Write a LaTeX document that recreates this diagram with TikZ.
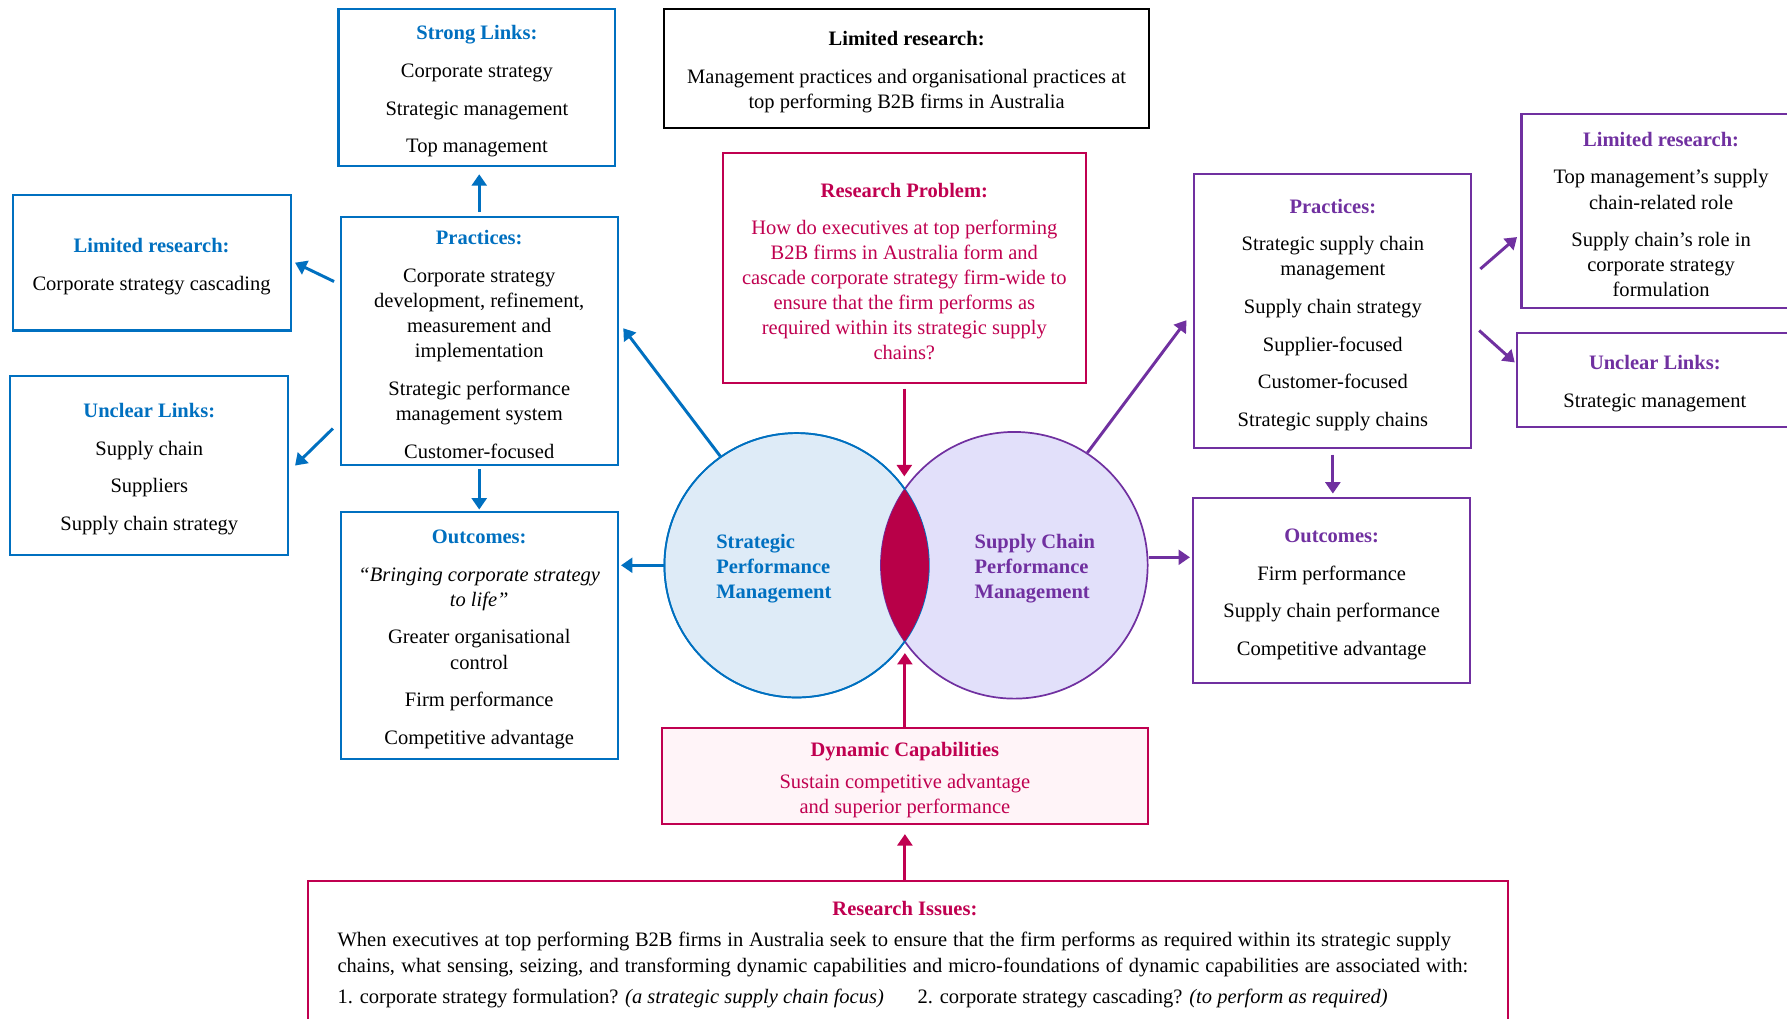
\documentclass[tikz,border=0pt]{standalone}
\usepackage{fontspec}
\setmainfont{Liberation Serif}
\usetikzlibrary{arrows.meta}
\definecolor{blueC}{RGB}{0,112,192}
\definecolor{purpC}{RGB}{112,48,160}
\definecolor{crimC}{RGB}{192,0,80}
\definecolor{lensC}{RGB}{184,0,72}
\definecolor{lblue}{RGB}{222,235,247}
\definecolor{lpurp}{RGB}{226,224,250}
\definecolor{lpink}{RGB}{255,244,248}
\newcommand{\gapp}{\\[11pt]}
\newcommand{\tT}[1]{\rule{0pt}{19pt}\textbf{#1}}
\newcommand{\bT}[1]{\rule{0pt}{19pt}\textbf{\color{blueC}#1}}
\newcommand{\pT}[1]{\rule{0pt}{19pt}\textbf{\color{purpC}#1}}
\begin{document}
\begin{tikzpicture}[x=1pt,y=-1pt,
  box/.style={draw, rectangle, line width=1.8pt, align=center, inner sep=0pt, font=\fontsize{18}{22}\selectfont},
  bluebox/.style={box, draw=blueC},
  purpbox/.style={box, draw=purpC},
  crimbox/.style={box, draw=crimC},
  blackbox/.style={box, draw=black},
  txt/.style={font=\fontsize{18}{22}\selectfont, inner sep=0pt},
  arr/.style={line width=2.6pt, -{Triangle[length=10pt,width=13pt]}},
  barrow/.style={arr, draw=blueC, fill=blueC},
  parrow/.style={arr, draw=purpC, fill=purpC},
  rarrow/.style={arr, draw=crimC, fill=crimC},
]
\useasboundingbox (0,0) rectangle (1568,894);
\clip (0,0) rectangle (1568,894);
\fill[white] (0,0) rectangle (1568,894);

% ---- left (blue) ----
\node[bluebox, minimum width=243pt, minimum height=138pt] (strong) at (418.5,77)
 {\bT{Strong Links:}\gapp Corporate strategy\gapp Strategic management\gapp Top management};
\node[bluebox, minimum width=243pt, minimum height=218pt] (pracL) at (420.5,299)
 {\bT{Practices:}\gapp Corporate strategy\\ development, refinement,\\ measurement and\\ implementation\gapp Strategic performance\\ management system\gapp Customer-focused};
\node[bluebox, minimum width=244pt, minimum height=119pt] (limL) at (133,230.5)
 {\bT{Limited research:}\gapp Corporate strategy cascading};
\node[bluebox, minimum width=244pt, minimum height=157pt] (unclL) at (131,408.5)
 {\bT{Unclear Links:}\gapp Supply chain\gapp Suppliers\gapp Supply chain strategy};
\node[bluebox, minimum width=243pt, minimum height=217pt] (outL) at (420.5,557.5)
 {\bT{Outcomes:}\gapp \textit{“Bringing corporate strategy}\\ \textit{to life”}\gapp Greater organisational\\ control\gapp Firm performance\gapp Competitive advantage};

% ---- centre ----
\node[blackbox, minimum width=425pt, minimum height=104pt] (lim) at (795.5,60)
 {\tT{Limited research:}\gapp Management practices and organisational practices at\\ top performing B2B firms in Australia};
\node[crimbox, text=crimC, minimum width=319pt, minimum height=202pt] (rp) at (793.5,235)
 {\tT{Research Problem:}\gapp How do executives at top performing\\ B2B firms in Australia form and\\ cascade corporate strategy firm-wide to\\ ensure that the firm performs as\\ required within its strategic supply\\ chains?};
\node[crimbox, fill=lpink, text=crimC, minimum width=426pt, minimum height=84pt] (dc) at (794,681)
 {\tT{Dynamic Capabilities}\\[6pt] Sustain competitive advantage\\ and superior performance};
\node[crimbox, minimum width=1053pt, minimum height=140pt, anchor=north west] (ri) at (269,772) {};
\node[txt, text=crimC] (riT) at (794,797) {\textbf{Research Issues:}};
\node[txt, anchor=north west, align=left] (riB) at (296,818)
 {\makebox[977pt][s]{When executives at top performing B2B firms in Australia seek to ensure that the firm performs as required within its strategic supply}\\
  \makebox[992pt][s]{chains, what sensing, seizing, and transforming dynamic capabilities and micro-foundations of dynamic capabilities are associated with:}\\[6pt]
  \makebox[509pt][l]{1. corporate strategy formulation? \textit{(a strategic supply chain focus)}}2. corporate strategy cascading? \textit{(to perform as required)}};

% circles
\node[circle, draw=blueC, fill=lblue, line width=1.5pt, minimum size=232pt, inner sep=0pt] (circL) at (699,496) {};
\node[circle, draw=purpC, fill=lpurp, line width=1.5pt, minimum size=234pt, inner sep=0pt] (circR) at (890,496) {};
\draw[blueC, line width=1.5pt] (699,496) circle[radius=116pt];
\begin{scope}
\clip (699,496) circle[radius=116pt];
\fill[lensC] (890,496) circle[radius=117pt];
\end{scope}
\coordinate (lensT) at (794,430);
\coordinate (lensB) at (794,562);
\node[txt, font=\fontsize{18}{22}\selectfont\bfseries, text=blueC, align=left] (labL) at (679,499) {Strategic\\Performance\\Management};
\node[txt, font=\fontsize{18}{22}\selectfont\bfseries, text=purpC, align=left] (labR) at (908,499) {Supply Chain\\Performance\\Management};

% ---- right (purple) ----
\node[purpbox, minimum width=243pt, minimum height=240pt] (pracR) at (1169.5,273)
 {\pT{Practices:}\gapp Strategic supply chain\\ management\gapp Supply chain strategy\gapp Supplier-focused\gapp Customer-focused\gapp Strategic supply chains};
\node[purpbox, minimum width=243pt, minimum height=162pt] (outR) at (1168.5,518)
 {\pT{Outcomes:}\gapp Firm performance\gapp Supply chain performance\gapp Competitive advantage};
\node[purpbox, minimum width=245pt, minimum height=170pt] (limR) at (1457.5,185)
 {\pT{Limited research:}\gapp Top management’s supply\\ chain-related role\gapp Supply chain’s role in\\ corporate strategy\\ formulation};
\node[purpbox, minimum width=242pt, minimum height=83pt] (unclR) at (1452,333.5)
 {\pT{Unclear Links:}\gapp Strategic management};

% ---- arrows ----
\draw[barrow, shorten <=3pt, shorten >=6pt] (pracL.north) -- (pracL.north |- strong.south);
\draw[barrow] ([xshift=-5pt,yshift=52pt]pracL.west) -- ([xshift=3pt]limL.east);
\draw[barrow] ([xshift=-6pt,yshift=-77pt]pracL.west) -- ([xshift=5pt]unclL.east);
\draw[barrow, shorten <=3pt, shorten >=1pt] (pracL.south) -- (outL.north);
\draw[barrow, shorten >=2pt] (circL.west) -- (outL.east |- circL.west);
\draw[barrow] (circL.125) -- ([xshift=4pt,yshift=11pt]pracL.east);

\draw[rarrow, shorten <=4pt, shorten >=12pt] (rp.south) -- (rp.south |- lensT);
\draw[rarrow, shorten >=11pt] (dc.north) -- (dc.north |- lensB);
\draw[rarrow, shorten >=8pt] (dc.south |- ri.north) -- (dc.south);

\coordinate (cRe) at ([yshift=7pt]circR.east);
\draw[parrow] (circR.57) -- ([xshift=-6pt,yshift=-8pt]pracR.west);
\draw[parrow, shorten <=5pt, shorten >=3pt] (pracR.south) -- (pracR.south |- outR.north);
\draw[parrow, shorten >=2pt] (cRe) -- (outR.west |- cRe);
\draw[parrow] ([xshift=7pt,yshift=37pt]pracR.east) -- ([xshift=-3pt,yshift=-23pt]limR.west);
\draw[parrow] ([xshift=6pt,yshift=-17pt]pracR.east) -- ([xshift=-1pt,yshift=15.5pt]unclR.west);
\end{tikzpicture}
\end{document}
